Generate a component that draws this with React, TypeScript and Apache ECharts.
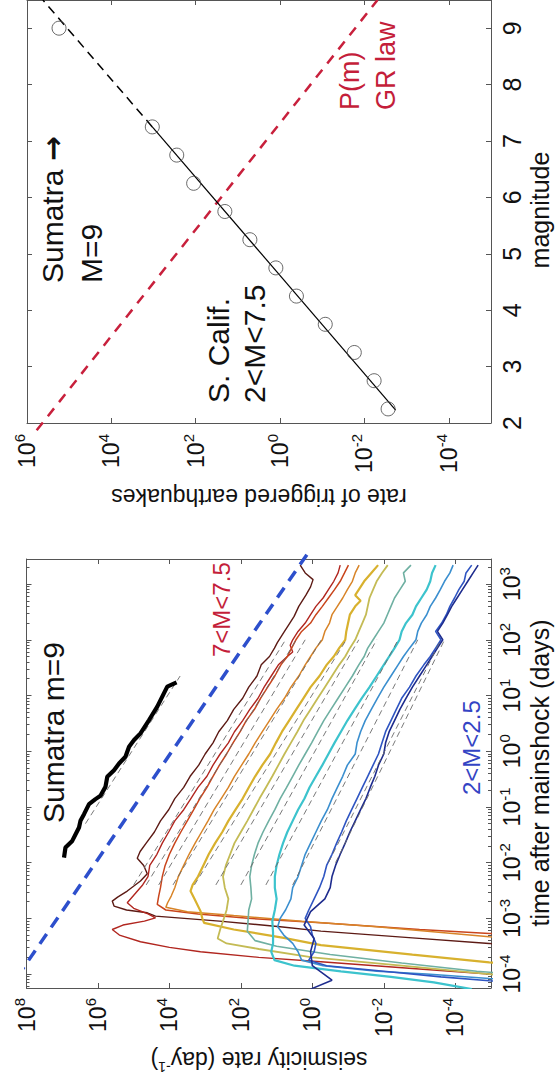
import React, { useEffect, useRef } from "react";
import * as echarts from "echarts";

const FONT = "'Liberation Sans', Arial, Helvetica, sans-serif";
const INK = "#111";
const BOX = "#555";
const CRIMSON = "#c41e3a";

// ---------- Top panel: rate of triggered earthquakes vs magnitude ----------
const calMag = [2.25, 2.75, 3.25, 3.75, 4.25, 4.75, 5.25, 5.75, 6.25, 6.75, 7.25];
const calRate = [2.75e-3, 5.9e-3, 1.74e-2, 8.5e-2, 0.41, 1.26, 5.2, 20.4, 112, 282, 1070];
const sumatraMag = [9.0];
const sumatraRate = [1.74e5];
const fitSolidMag = [2.23, 7.25];
const fitSolidRate = [1.82e-3, 1070];
const fitDashMag = [7.25, 9.5];
const fitDashRate = [1070, 4.2e5];
const grMag = [1.87, 9.5];
const grRate = [5.9e5, 4.9e-3];

const topRateTicks = [1e-4, 1e-2, 1, 1e2, 1e4, 1e6];
const magTicks = [2, 3, 4, 5, 6, 7, 8, 9];

// ---------- Bottom panel: seismicity rate vs time (pairs: log10 t [days], log10 rate [1/day]) ----------
const botRateTicks = [1e-4, 1e-2, 1, 1e2, 1e4, 1e6, 1e8];
const timeTicks = [1e-4, 1e-3, 1e-2, 1e-1, 1, 1e1, 1e2, 1e3];

const sumatraCurve = [[1.235,3.8],[1.16,4.06],[0.98,4.2],[0.8,4.34],[0.56,4.57],[0.32,4.81],[0.2,4.99],[0.08,5.13],[-0.1,5.23],[-0.22,5.41],[-0.34,5.55],[-0.46,5.74],[-0.64,5.79],[-0.8,5.93],[-0.86,6.07],[-0.95,6.25],[-1.13,6.39],[-1.25,6.49],[-1.37,6.53],[-1.61,6.72],[-1.73,6.91],[-1.91,6.95]];
const omoriLine = [[-4.05, 8.26], [3.55, 0.13]];

const m70 = [[3.34,0.34],[3.2,0.2],[3.08,-0.02],[2.95,0.05],[2.8,0.18],[2.6,0.38],[2.42,0.51],[2.25,0.68],[2.15,0.78],[1.95,0.98],[1.85,1.06],[1.7,1.2],[1.55,1.43],[1.35,1.55],[1.15,1.78],[0.95,1.95],[0.75,2.2],[0.55,2.38],[0.35,2.62],[0.15,2.78],[-0.05,3.0],[-0.25,3.18],[-0.45,3.42],[-0.65,3.6],[-0.85,3.85],[-1.05,4.02],[-1.25,4.25],[-1.45,4.42],[-1.65,4.65],[-1.8,4.82],[-1.92,4.9],[-2.05,4.72],[-2.2,4.62],[-2.33,4.81],[-2.51,5.18],[-2.62,5.45],[-2.69,5.6],[-2.78,5.55],[-2.85,5.2],[-2.9,4.62],[-2.96,4.39],[-3.05,2.6],[-3.15,0.9],[-3.23,-0.24],[-3.35,-2.8],[-3.45,-4.95],[-3.5,-5.6]];
const m65 = [[3.34,-0.78],[3.2,-0.72],[3.05,-0.6],[2.9,-0.45],[2.75,-0.3],[2.6,-0.1],[2.45,0.05],[2.3,0.2],[2.15,0.4],[2.0,0.55],[1.9,0.62],[1.78,0.55],[1.7,0.7],[1.55,0.95],[1.35,1.15],[1.15,1.35],[0.95,1.52],[0.75,1.75],[0.55,1.95],[0.35,2.18],[0.15,2.35],[-0.05,2.58],[-0.25,2.78],[-0.45,2.95],[-0.65,3.2],[-0.85,3.4],[-1.05,3.6],[-1.25,3.85],[-1.45,4.02],[-1.65,4.2],[-1.85,4.35],[-2.05,4.55],[-2.25,4.6],[-2.4,4.75],[-2.55,4.95],[-2.72,5.18],[-2.82,5.0],[-2.92,4.6],[-2.99,4.39],[-3.05,4.7],[-3.12,5.3],[-3.2,5.6],[-3.3,5.4],[-3.42,4.81],[-3.52,4.0],[-3.6,3.13],[-3.7,1.5],[-3.78,-0.24],[-3.9,-2.8],[-4.0,-4.95],[-4.05,-5.6]];
const m60 = [[3.34,-1.01],[3.2,-0.9],[3.05,-0.78],[2.9,-0.62],[2.75,-0.45],[2.6,-0.28],[2.45,-0.1],[2.3,0.05],[2.15,0.3],[2.0,0.46],[1.85,0.58],[1.7,0.7],[1.55,0.88],[1.35,1.05],[1.15,1.25],[0.95,1.45],[0.75,1.62],[0.55,1.85],[0.35,2.02],[0.15,2.22],[-0.05,2.4],[-0.25,2.6],[-0.45,2.78],[-0.65,2.95],[-0.85,3.15],[-1.05,3.32],[-1.25,3.5],[-1.45,3.68],[-1.65,3.85],[-1.85,4.0],[-2.05,4.12],[-2.25,4.2],[-2.45,4.25],[-2.6,4.3],[-2.75,4.34],[-2.85,4.1],[-2.92,3.2],[-3.0,1.8],[-3.08,-0.24],[-3.2,-3.0],[-3.27,-4.95],[-3.3,-5.6]];
const m55 = [[3.34,-1.31],[3.2,-1.2],[3.05,-1.12],[2.9,-0.98],[2.75,-0.85],[2.6,-0.7],[2.45,-0.55],[2.3,-0.48],[2.15,-0.35],[2.0,-0.28],[1.85,-0.1],[1.7,0.05],[1.55,0.2],[1.35,0.38],[1.15,0.6],[0.95,0.78],[0.75,1.0],[0.55,1.2],[0.35,1.4],[0.15,1.6],[-0.05,1.78],[-0.25,1.98],[-0.45,2.18],[-0.65,2.35],[-0.85,2.55],[-1.05,2.75],[-1.25,2.92],[-1.45,3.1],[-1.65,3.28],[-1.85,3.45],[-2.05,3.6],[-2.25,3.75],[-2.45,3.85],[-2.6,3.95],[-2.72,4.05],[-2.8,4.1],[-2.88,3.5],[-2.95,2.2],[-3.05,0.3],[-3.15,-1.8],[-3.33,-4.95],[-3.36,-5.6]];
const m50 = [[3.34,-1.84],[3.2,-1.65],[3.05,-1.45],[2.9,-1.3],[2.8,-1.2],[2.7,-1.35],[2.6,-1.2],[2.45,-1.05],[2.3,-1.0],[2.15,-0.95],[2.0,-0.92],[1.85,-0.75],[1.7,-0.6],[1.55,-0.4],[1.35,-0.2],[1.15,0.05],[0.95,0.25],[0.75,0.45],[0.55,0.65],[0.35,0.85],[0.15,1.02],[-0.05,1.18],[-0.25,1.4],[-0.45,1.6],[-0.65,1.78],[-0.85,1.95],[-1.05,2.15],[-1.25,2.35],[-1.45,2.52],[-1.65,2.72],[-1.85,2.9],[-2.05,3.05],[-2.25,3.2],[-2.4,3.35],[-2.51,3.41],[-2.65,3.3],[-2.87,3.13],[-3.0,3.08],[-3.08,3.03],[-3.2,2.2],[-3.35,0.8],[-3.48,-0.24],[-3.65,-2.8],[-3.79,-4.95],[-3.82,-5.6]];
const m45 = [[3.34,-2.11],[3.2,-1.95],[3.05,-1.8],[2.9,-1.7],[2.75,-1.6],[2.6,-1.55],[2.45,-1.5],[2.3,-1.4],[2.15,-1.3],[2.0,-1.2],[1.85,-1.05],[1.7,-0.92],[1.55,-0.75],[1.35,-0.55],[1.15,-0.35],[0.95,-0.15],[0.75,0.05],[0.55,0.25],[0.35,0.42],[0.15,0.6],[-0.05,0.78],[-0.25,0.95],[-0.45,1.12],[-0.65,1.3],[-0.85,1.48],[-1.05,1.65],[-1.25,1.82],[-1.45,2.0],[-1.65,2.18],[-1.85,2.3],[-2.05,2.42],[-2.25,2.5],[-2.45,2.45],[-2.65,2.35],[-2.85,2.4],[-3.05,2.5],[-3.2,2.58],[-3.36,2.65],[-3.45,2.4],[-3.55,1.5],[-3.7,0.0],[-3.85,-2.5],[-4.0,-4.95],[-4.05,-5.6]];
const m40 = [[3.34,-2.76],[3.2,-2.55],[3.05,-2.6],[2.9,-2.45],[2.75,-2.3],[2.6,-2.2],[2.45,-2.1],[2.3,-2.0],[2.15,-1.85],[2.0,-1.7],[1.85,-1.55],[1.7,-1.45],[1.55,-1.3],[1.35,-1.12],[1.15,-0.92],[0.95,-0.72],[0.75,-0.52],[0.55,-0.32],[0.35,-0.15],[0.15,0.02],[-0.05,0.2],[-0.25,0.38],[-0.45,0.55],[-0.65,0.72],[-0.85,0.9],[-1.05,1.05],[-1.25,1.22],[-1.45,1.38],[-1.65,1.52],[-1.85,1.62],[-2.05,1.7],[-2.25,1.75],[-2.45,1.72],[-2.65,1.7],[-2.85,1.78],[-3.05,1.8],[-3.23,1.82],[-3.4,1.6],[-3.5,1.0],[-3.65,-0.5],[-3.8,-2.5],[-3.95,-4.6],[-4.0,-5.6]];
const m35 = [[3.34,-3.45],[3.2,-3.35],[3.05,-3.3],[2.9,-3.2],[2.75,-3.05],[2.6,-2.9],[2.45,-2.8],[2.3,-2.62],[2.15,-2.5],[2.0,-2.44],[1.85,-2.3],[1.7,-2.15],[1.55,-2.0],[1.35,-1.8],[1.15,-1.6],[0.95,-1.38],[0.75,-1.18],[0.55,-0.98],[0.35,-0.8],[0.15,-0.62],[-0.05,-0.45],[-0.25,-0.28],[-0.45,-0.1],[-0.65,0.08],[-0.85,0.22],[-1.05,0.4],[-1.25,0.55],[-1.45,0.7],[-1.65,0.82],[-1.85,0.92],[-2.05,1.0],[-2.25,1.05],[-2.45,1.05],[-2.65,1.0],[-2.85,1.05],[-3.05,1.12],[-3.25,1.1],[-3.45,1.1],[-3.6,1.15],[-3.75,1.06],[-3.85,0.5],[-3.95,-0.8],[-4.05,-2.2],[-4.15,-3.4],[-4.27,-4.46]];
const m30 = [[3.34,-3.94],[3.2,-3.85],[3.05,-3.7],[2.9,-3.58],[2.75,-3.45],[2.6,-3.3],[2.45,-3.2],[2.3,-3.05],[2.15,-2.95],[2.0,-2.9],[1.85,-2.72],[1.7,-2.55],[1.55,-2.4],[1.35,-2.2],[1.15,-2.0],[0.95,-1.82],[0.75,-1.65],[0.55,-1.48],[0.35,-1.35],[0.15,-1.25],[-0.05,-1.2],[-0.25,-0.98],[-0.45,-0.85],[-0.65,-0.7],[-0.85,-0.55],[-1.05,-0.42],[-1.25,-0.25],[-1.45,-0.1],[-1.65,0.05],[-1.85,0.2],[-2.05,0.3],[-2.25,0.4],[-2.45,0.55],[-2.65,0.6],[-2.85,0.75],[-3.0,0.9],[-3.15,0.97],[-3.3,0.8],[-3.45,0.55],[-3.6,0.4],[-3.75,0.3],[-3.85,-0.3],[-3.95,-1.8],[-4.0,-3.2],[-4.08,-4.95],[-4.1,-5.6]];
const m25 = [[3.34,-4.46],[3.2,-4.3],[3.05,-4.25],[2.9,-4.1],[2.75,-3.98],[2.6,-3.85],[2.45,-3.75],[2.3,-3.62],[2.15,-3.45],[2.0,-3.6],[1.85,-3.45],[1.7,-3.3],[1.55,-3.12],[1.35,-2.9],[1.15,-2.72],[0.95,-2.5],[0.75,-2.35],[0.55,-2.2],[0.35,-2.05],[0.15,-1.95],[-0.05,-1.85],[-0.25,-1.7],[-0.45,-1.55],[-0.65,-1.4],[-0.85,-1.25],[-1.05,-1.1],[-1.25,-0.95],[-1.45,-0.82],[-1.65,-0.68],[-1.85,-0.55],[-2.05,-0.4],[-2.25,-0.32],[-2.45,-0.2],[-2.65,-0.05],[-2.85,0.1],[-3.0,0.2],[-3.15,0.05],[-3.3,0.0],[-3.45,-0.1],[-3.6,-0.05],[-3.75,0.1],[-3.85,-0.4],[-3.95,-2.0],[-4.05,-3.6],[-4.12,-4.95],[-4.15,-5.6]];
const m20 = [[3.34,-4.64],[3.2,-4.5],[3.05,-4.35],[2.9,-4.2],[2.75,-4.05],[2.6,-3.9],[2.45,-3.78],[2.3,-3.65],[2.15,-3.5],[2.0,-3.65],[1.85,-3.5],[1.7,-3.35],[1.55,-3.2],[1.35,-3.0],[1.15,-2.8],[0.95,-2.62],[0.75,-2.45],[0.55,-2.3],[0.35,-2.15],[0.15,-2.05],[-0.05,-2.0],[-0.25,-1.85],[-0.45,-1.75],[-0.65,-1.62],[-0.85,-1.5],[-1.05,-1.35],[-1.25,-1.2],[-1.45,-1.05],[-1.65,-0.92],[-1.85,-0.78],[-2.05,-0.65],[-2.25,-0.55],[-2.45,-0.5],[-2.65,-0.35],[-2.88,0.05],[-3.12,0.23],[-3.36,-0.05],[-3.6,0.05],[-3.85,0.0],[-4.11,-0.55],[-4.27,0.05]];

const fitLines = [
  [[-1.3, 6.35], [1.35, 3.7]],
  [[-2.4, 5.0], [2.0, 0.75]],
  [[-2.4, 4.65], [2.0, 0.45]],
  [[-2.4, 4.3], [2.0, 0.2]],
  [[-2.4, 3.9], [2.0, -0.25]],
  [[-2.4, 3.3], [2.0, -0.95]],
  [[-2.4, 2.7], [2.0, -1.3]],
  [[-2.4, 2.0], [2.0, -1.8]],
  [[-2.4, 1.3], [2.0, -2.4]],
  [[-2.4, 0.55], [2.0, -2.95]],
  [[-2.0, -0.45], [2.0, -3.6]],
  [[-2.0, -0.65], [2.0, -3.7]],
];

const curveStyles = [
  { data: m70, color: "#5c1a14", width: 1.4 },
  { data: m65, color: "#b1261f", width: 1.4 },
  { data: m60, color: "#c9451c", width: 1.5 },
  { data: m55, color: "#d88428", width: 1.5 },
  { data: m50, color: "#d8b12e", width: 2.2 },
  { data: m45, color: "#c4bb55", width: 1.8 },
  { data: m40, color: "#6fb0a2", width: 1.6 },
  { data: m35, color: "#3cc3cd", width: 2.2 },
  { data: m30, color: "#3b8fcf", width: 1.6 },
  { data: m25, color: "#2f55c2", width: 1.6 },
  { data: m20, color: "#1e2c8e", width: 1.6 },
];

const T_MIN = Math.pow(10, -4.25);
const T_MAX = Math.pow(10, 3.45);
const timeMinor: number[] = [];
for (let e = -5; e <= 3; e++) {
  for (let k = 2; k <= 9; k++) {
    const v = k * Math.pow(10, e);
    if (v > T_MIN && v < T_MAX) timeMinor.push(v);
  }
}

const toXY = (pts: number[][]) => pts.map(([lt, lr]) => [Math.pow(10, lr), Math.pow(10, lt)]);
const zip = (a: number[], b: number[]) => a.map((v, i) => [v, b[i]]);

const LBL = 23;
const SUP = 15;
const rich = {
  b: { fontSize: LBL, fontFamily: FONT, color: INK, lineHeight: 30 },
  s: { fontSize: SUP, fontFamily: FONT, color: INK, verticalAlign: "top", lineHeight: 15 },
  m: { fontSize: 25, fontFamily: FONT, color: INK },
};
const supFmt = (v: number) => `{b|10}{s|${Math.round(Math.log10(v))}}`;
const magFmt = (v: number) => `{m|${v}}`;
const lineStyle = { color: BOX, width: 1 };

function mkAxis(base: any, opts: any) {
  return {
    ...base,
    axisLine: { show: opts.line !== false, onZero: false, lineStyle },
    axisTick: { show: true, inside: true, length: opts.tickLen || 5, customValues: opts.ticks, lineStyle },
    axisLabel: opts.labels
      ? { show: true, rotate: 90, margin: opts.margin, customValues: opts.ticks, formatter: opts.fmt, rich, fontSize: opts.fs || LBL, fontFamily: FONT, color: INK, showMinLabel: true, showMaxLabel: true, hideOverlap: false }
      : { show: false },
    splitLine: { show: false },
    minorTick: { show: false },
    axisPointer: { show: false },
  };
}

const topX = { type: "log", gridIndex: 0, min: 1e-5, max: 1e6, inverse: true };
const botX = { type: "log", gridIndex: 1, min: 1e-5, max: 1e8, inverse: true };
const magY = { type: "value", gridIndex: 0, min: 2, max: 9.5 };
const timeY = { type: "log", gridIndex: 1, min: T_MIN, max: T_MAX };

function txt(text: string, x: number, y: number, size: number, color: string, rotation: number, align = "left", extra: any = {}) {
  return {
    type: "text", x, y, rotation, silent: true,
    style: { text, fill: color, fontSize: size, fontFamily: FONT, align, verticalAlign: "middle", ...extra },
  };
}

const option: any = {
  animation: false,
  textStyle: { fontFamily: FONT, color: INK },
  grid: [
    { left: 27, right: 65, top: -5, bottom: 666 },
    { left: 26.5, right: 65, top: 559, bottom: 101 },
  ],
  xAxis: [
    mkAxis({ ...topX, position: "bottom" }, { ticks: topRateTicks, labels: true, margin: 11, fmt: supFmt }),
    mkAxis({ ...topX, position: "top" }, { ticks: topRateTicks }),
    mkAxis({ ...botX, position: "bottom" }, { ticks: botRateTicks, labels: true, margin: 10, fmt: supFmt }),
    mkAxis({ ...botX, position: "top" }, { ticks: botRateTicks }),
  ],
  yAxis: [
    mkAxis({ ...magY, position: "right" }, { ticks: magTicks, labels: true, margin: 8, fmt: magFmt, fs: 25 }),
    mkAxis({ ...magY, position: "left" }, { ticks: magTicks }),
    mkAxis({ ...timeY, position: "right" }, { ticks: timeTicks, labels: true, margin: 6, fmt: supFmt }),
    mkAxis({ ...timeY, position: "right" }, { ticks: timeMinor, line: false, tickLen: 3 }),
    mkAxis({ ...timeY, position: "left" }, { ticks: timeTicks }),
    mkAxis({ ...timeY, position: "left" }, { ticks: timeMinor, line: false, tickLen: 3 }),
  ],
  series: [
    // top panel
    { type: "line", xAxisIndex: 0, yAxisIndex: 0, data: zip(grRate, grMag), showSymbol: false, clip: false,
      lineStyle: { color: "#c8203c", width: 2.5, type: [10, 8] }, z: 2 },
    { type: "line", xAxisIndex: 0, yAxisIndex: 0, data: zip(fitSolidRate, fitSolidMag), showSymbol: false,
      lineStyle: { color: "#000", width: 1.2 }, z: 3 },
    { type: "line", xAxisIndex: 0, yAxisIndex: 0, data: zip(fitDashRate, fitDashMag), showSymbol: false,
      lineStyle: { color: "#000", width: 1.5, type: [9, 6] }, z: 3 },
    { type: "scatter", xAxisIndex: 0, yAxisIndex: 0, data: zip(calRate, calMag).concat(zip(sumatraRate, sumatraMag)),
      symbol: "circle", symbolSize: 14, itemStyle: { color: "rgba(0,0,0,0)", borderColor: "#444", borderWidth: 1 }, z: 4 },
    // bottom panel
    ...curveStyles.map((c) => ({
      type: "line", xAxisIndex: 2, yAxisIndex: 2, data: toXY(c.data), showSymbol: false,
      lineStyle: { color: c.color, width: c.width }, z: 3,
    })),
    ...fitLines.map((f) => ({
      type: "line", xAxisIndex: 2, yAxisIndex: 2, data: toXY(f), showSymbol: false,
      lineStyle: { color: "#6a6a6a", width: 0.9, type: [6, 4] }, z: 4,
    })),
    { type: "line", xAxisIndex: 2, yAxisIndex: 2, data: toXY(sumatraCurve), showSymbol: false,
      lineStyle: { color: "#000", width: 4.2 }, z: 5 },
    { type: "line", xAxisIndex: 2, yAxisIndex: 2, data: toXY(omoriLine), showSymbol: false, clip: false,
      lineStyle: { color: "#2d4fcc", width: 3.5, type: [12, 8] }, z: 5 },
  ],
  graphic: [
    // axis names
    txt("magnitude", 540, 210, 25, INK, Math.PI / 2, "center"),
    txt("rate of triggered earthquakes", 259, 497, 23, INK, Math.PI, "center"),
    txt("time after mainshock (days)", 540, 773, 25, INK, Math.PI / 2, "center"),
    txt("{a|seismicity rate (day}{s|-1}{a|)}", 259, 1060, 23, INK, Math.PI, "center", {
      rich: {
        a: { fontSize: 23, fontFamily: FONT, color: INK, lineHeight: 28 },
        s: { fontSize: 14, fontFamily: FONT, color: INK, verticalAlign: "top", lineHeight: 14 },
      },
    }),
    // top panel annotations
    txt("{n|Sumatra }{a|→}", 52.5, 283, 30, INK, Math.PI / 2, "left", {
      rich: {
        n: { fontSize: 30, fontFamily: FONT, color: INK },
        a: { fontSize: 30, fontFamily: "'DejaVu Sans', sans-serif", color: INK, fontWeight: "bold" },
      },
    }),
    txt("M=9", 91.5, 283, 30, INK, Math.PI / 2),
    txt("S. Calif.", 218.6, 403, 30, INK, Math.PI / 2),
    txt("2<M<7.5", 254.6, 403, 30, INK, Math.PI / 2),
    txt("P(m)", 349.6, 110, 27, CRIMSON, Math.PI / 2),
    txt("GR law", 385.6, 110, 27, CRIMSON, Math.PI / 2),
    // bottom panel annotations
    txt("Sumatra m=9", 53, 823, 30, INK, Math.PI / 2),
    txt("7<M<7.5", 221, 657, 24, CRIMSON, Math.PI / 2),
    txt("2<M<2.5", 471, 795, 24, "#3344c4", Math.PI / 2),
  ],
};

export default function App() {
  const ref = useRef<HTMLDivElement>(null);
  useEffect(() => {
    document.body.style.margin = "0";
    const chart = echarts.init(ref.current as HTMLDivElement, null, { renderer: "svg" });
    chart.setOption(option);
    return () => chart.dispose();
  }, []);
  return <div ref={ref} style={{ width: 556, height: 1089 }} />;
}
